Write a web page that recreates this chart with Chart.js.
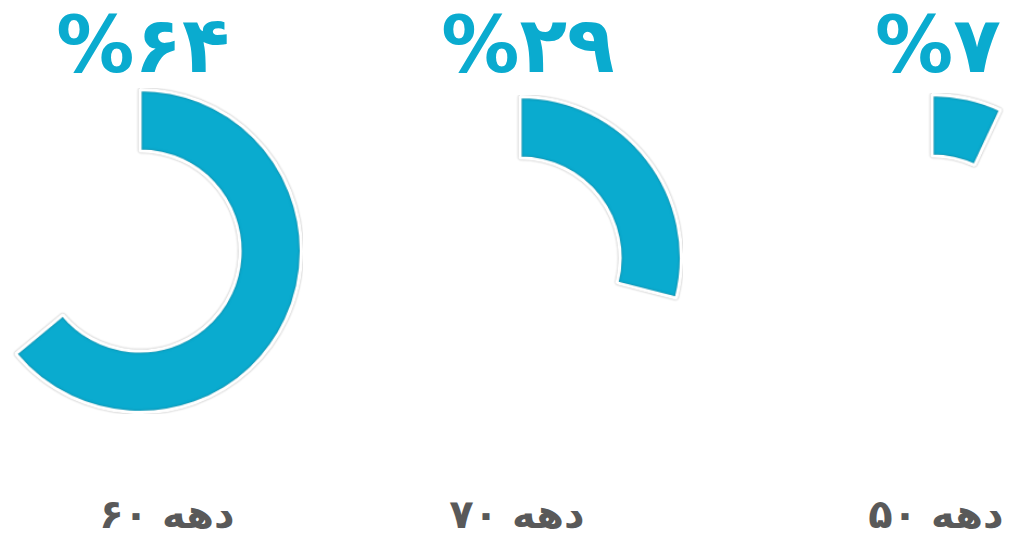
<!DOCTYPE html>
<html lang="fa">
<head>
<meta charset="utf-8">
<script src="https://cdn.jsdelivr.net/npm/chart.js@4/dist/chart.umd.min.js"></script>
<style>
  html, body { margin: 0; padding: 0; background: #fff; }
  body { width: 1013px; height: 542px; position: relative; overflow: hidden; font-family: "DejaVu Sans", sans-serif; }
  .ring { position: absolute; width: 326px; height: 326px; }
  .pct, .decade { position: absolute; width: 300px; text-align: center; line-height: 1; white-space: nowrap; }
  .pct { color: #0aabcf; font-size: 78px; font-weight: bold; direction: ltr; letter-spacing: 6px; }
  .decade { color: #595959; font-size: 40px; font-weight: bold; direction: rtl; letter-spacing: 5px; }
</style>
</head>
<body>
<script>
// data
const decades = ['دهه ۶۰', 'دهه ۷۰', 'دهه ۵۰'];
const shares = [64, 29, 7];
const shareLabels = ['%۶۴', '%۲۹', '%۷'];

// layout for each ring: center of doughnut, title and label centers
const spots = [
    { cx: 140, cy: 251, pctX: 143, labelX: 167 },
    { cx: 520, cy: 258, pctX: 528, labelX: 517 },
    { cx: 932, cy: 256, pctX: 938, labelX: 936 }
];

const blue = '#0aabcf';

// soft grey outline around the white border
const outlinePlugin = {
    id: 'outline',
    beforeDatasetDraw(chart) {
        const ctx = chart.ctx;
        ctx.save();
        ctx.shadowColor = 'rgba(0, 0, 0, 0.35)';
        ctx.shadowBlur = 2;
    },
    afterDatasetDraw(chart) {
        chart.ctx.restore();
    }
};

shares.forEach((value, i) => {
    const spot = spots[i];

    const pct = document.createElement('div');
    pct.className = 'pct';
    pct.textContent = shareLabels[i];
    pct.style.left = (spot.pctX - 150) + 'px';
    pct.style.top = '6px';
    document.body.appendChild(pct);

    const label = document.createElement('div');
    label.className = 'decade';
    label.textContent = decades[i];
    label.style.left = (spot.labelX - 150) + 'px';
    label.style.top = '494px';
    document.body.appendChild(label);

    const box = document.createElement('div');
    box.className = 'ring';
    box.style.left = (spot.cx - 163) + 'px';
    box.style.top = (spot.cy - 163) + 'px';
    const canvas = document.createElement('canvas');
    box.appendChild(canvas);
    document.body.appendChild(box);

    new Chart(canvas.getContext('2d'), {
        type: 'doughnut',
        data: {
            labels: [decades[i], ''],
            datasets: [{
                data: [value, 100 - value],
                backgroundColor: [blue, 'rgba(0,0,0,0)'],
                borderColor: ['#ffffff', 'rgba(0,0,0,0)'],
                borderWidth: [3, 0]
            }]
        },
        options: {
            responsive: false,
            animation: false,
            cutout: '62%',
            layout: { padding: 0 },
            plugins: {
                legend: { display: false },
                tooltip: { enabled: false }
            }
        },
        plugins: [outlinePlugin]
    });
    canvas.style.width = '326px';
    canvas.style.height = '326px';
});
</script>
</body>
</html>
